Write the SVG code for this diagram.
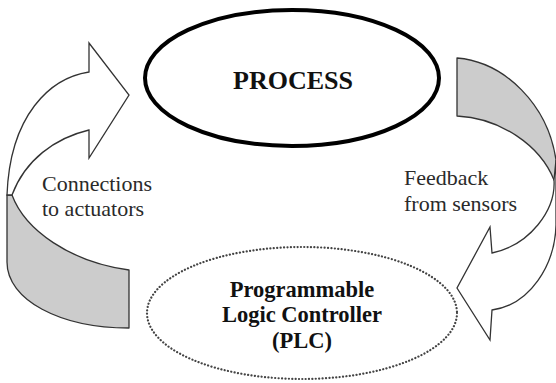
<svg xmlns="http://www.w3.org/2000/svg" width="556" height="383" viewBox="0 0 556 383">
<style>
.band{fill:#cccccc;stroke:#333333;stroke-width:1.3;stroke-linejoin:round}
.face{fill:#ffffff;stroke:#333333;stroke-width:1.3;stroke-linejoin:miter}
</style>
<rect x="0" y="0" width="556" height="383" fill="#ffffff"/>
<g id="process">
<ellipse cx="292" cy="78" rx="147" ry="68" fill="#ffffff" stroke="#000000" stroke-width="4"/>
<text x="293" y="89" font-family="'Liberation Serif', serif" font-weight="bold" font-size="26" fill="#111111" text-anchor="middle">PROCESS</text>
</g>
<g id="plc" font-family="'Liberation Serif', serif" font-weight="bold" font-size="22.5" fill="#111111" text-anchor="middle">
<ellipse cx="302" cy="313" rx="155" ry="66" fill="none" stroke="#444444" stroke-width="2.2" stroke-linecap="round" stroke-dasharray="0.1 3.3"/>
<text x="302" y="297">Programmable</text>
<text x="302" y="322">Logic Controller</text>
<text x="302" y="348">(PLC)</text>
</g>
<g id="connectors">
<g id="actuator-arrow">
<path class="band" d="M 12,195 C 25,230 70,262 129,270 L 129,328 C 60,328 7,300 7,262 L 7,195 Z"/>
<path class="face" d="M 89,72 L 89,43 L 129,95 L 89,158 L 89,130 C 55,138 25,160 12,195 L 7,195 C 10,115 50,78 89,72 Z"/>
</g>
<g id="feedback-arrow">
<path class="band" d="M 457,58 C 505,62 548,105 556,160 L 556,182 L 554,180 C 540,145 500,118 457,116 Z"/>
<path class="face" d="M 556,160 L 556,225 C 555,265 530,305 492,310 L 490,340 L 457,288 L 490,227 L 492,253 C 530,245 556,210 554,180 Z"/>
</g>
</g>
<g id="labels" font-family="'Liberation Serif', serif" font-size="22" fill="#2a2a2a">
<text x="42" y="191">Connections</text>
<text x="42" y="216">to actuators</text>
<text x="404" y="185">Feedback</text>
<text x="404" y="211">from sensors</text>
</g>
</svg>
